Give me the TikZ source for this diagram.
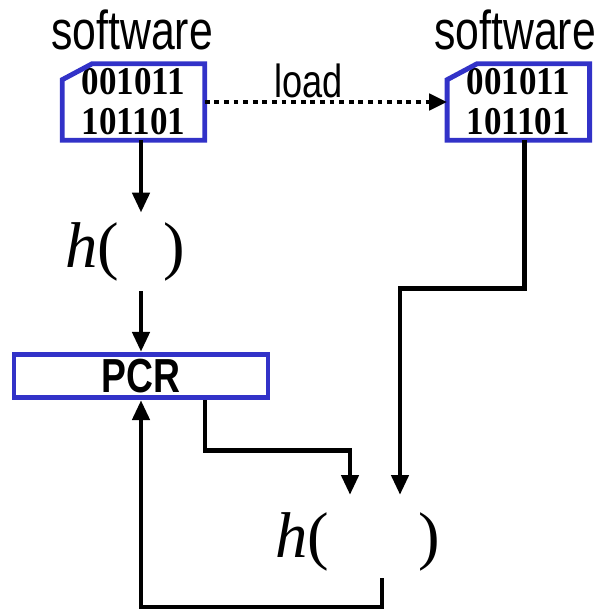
\documentclass[tikz,border=0pt]{standalone}
\usepackage{fontspec}
\setmainfont{Liberation Serif}
\setsansfont[FakeStretch=0.78]{Liberation Sans}
\newfontfamily\binfont[FakeStretch=0.89]{Liberation Serif}
\usepackage{tikz}
\usetikzlibrary{arrows.meta, positioning, calc}
\definecolor{docblue}{RGB}{50,50,200}
\tikzset{
    docbox/.style={rectangle, minimum width=3.55cm, minimum height=1.9cm, inner sep=0pt, align=center, font=\binfont\bfseries\fontsize{28}{28.5}\selectfont},
    docline/.style={draw=docblue, line width=3.5pt, line join=miter},
    swlabel/.style={font=\sffamily\fontsize{39}{40}\selectfont, inner sep=0pt},
    pcrbox/.style={rectangle, draw=docblue, line width=3.5pt, minimum width=6.35cm, minimum height=1.08cm, inner sep=0pt, font=\sffamily\bfseries\fontsize{34}{36}\selectfont},
    hashnode/.style={inner sep=0pt, outer ysep=0.25cm, font=\fontsize{46}{50}\selectfont},
    flow/.style={-{Triangle[length=0.5cm, width=0.42cm]}, line width=3.5pt},
    loadarrow/.style={-{Triangle[length=0.45cm, width=0.4cm]}, line width=3.5pt, dash pattern=on 0.12cm off 0.12cm}
}

\begin{document}
\begin{tikzpicture}
\useasboundingbox (0,0) rectangle (15,-15.275);

% software images
\node[docbox] (doc1) at (3.3375,-2.55) {001011\\101101};
\node[docbox] (doc2) at (12.96,-2.55) {001011\\101101};
\node[swlabel] (sw1) at (3.3,-0.75) {software};
\node[swlabel] (sw2) at (12.875,-0.75) {software};
\foreach \d in {doc1,doc2}
    \draw[docline] ($(\d.north west)+(0,-0.4)$) -- ($(\d.north west)+(0.75,0)$) -- (\d.north east) -- (\d.south east) -- (\d.south west) -- cycle;

% measurement
\node[hashnode] (hash1) at (3.125,-6.3) {\textit{h}(\hspace{1.1cm})};
\node[pcrbox] (pcr) at (3.525,-9.4) {PCR};
\node[hashnode] (hash2) at (8.94,-13.55) {\textit{h}(\hspace{2.23cm})};

\coordinate (tipA) at (8.75,-12.375);
\coordinate (tipB) at (10,-12.375);
\coordinate (fb) at (9.55,-14.45);

\draw[loadarrow] (doc1.east) -- node[above, xshift=-0.43cm, font=\sffamily\fontsize{33}{34}\selectfont, inner sep=1pt] (ld) {load} (doc2.west);
\draw[flow] (doc1.south -| pcr.north) -- (hash1.north -| pcr.north);
\draw[flow] (hash1.south -| pcr.north) -- (pcr.north);
\draw[flow] ([xshift=1.6cm]pcr.south) -- ++(0,-1.25) -| (tipA);
\draw[flow] ([xshift=0.16cm]doc2.south) -- ++(0,-3.7) -| (tipB);
\draw[flow] (fb) -- ++(0,-0.725) -| (pcr.south);

\end{tikzpicture}
\end{document}
